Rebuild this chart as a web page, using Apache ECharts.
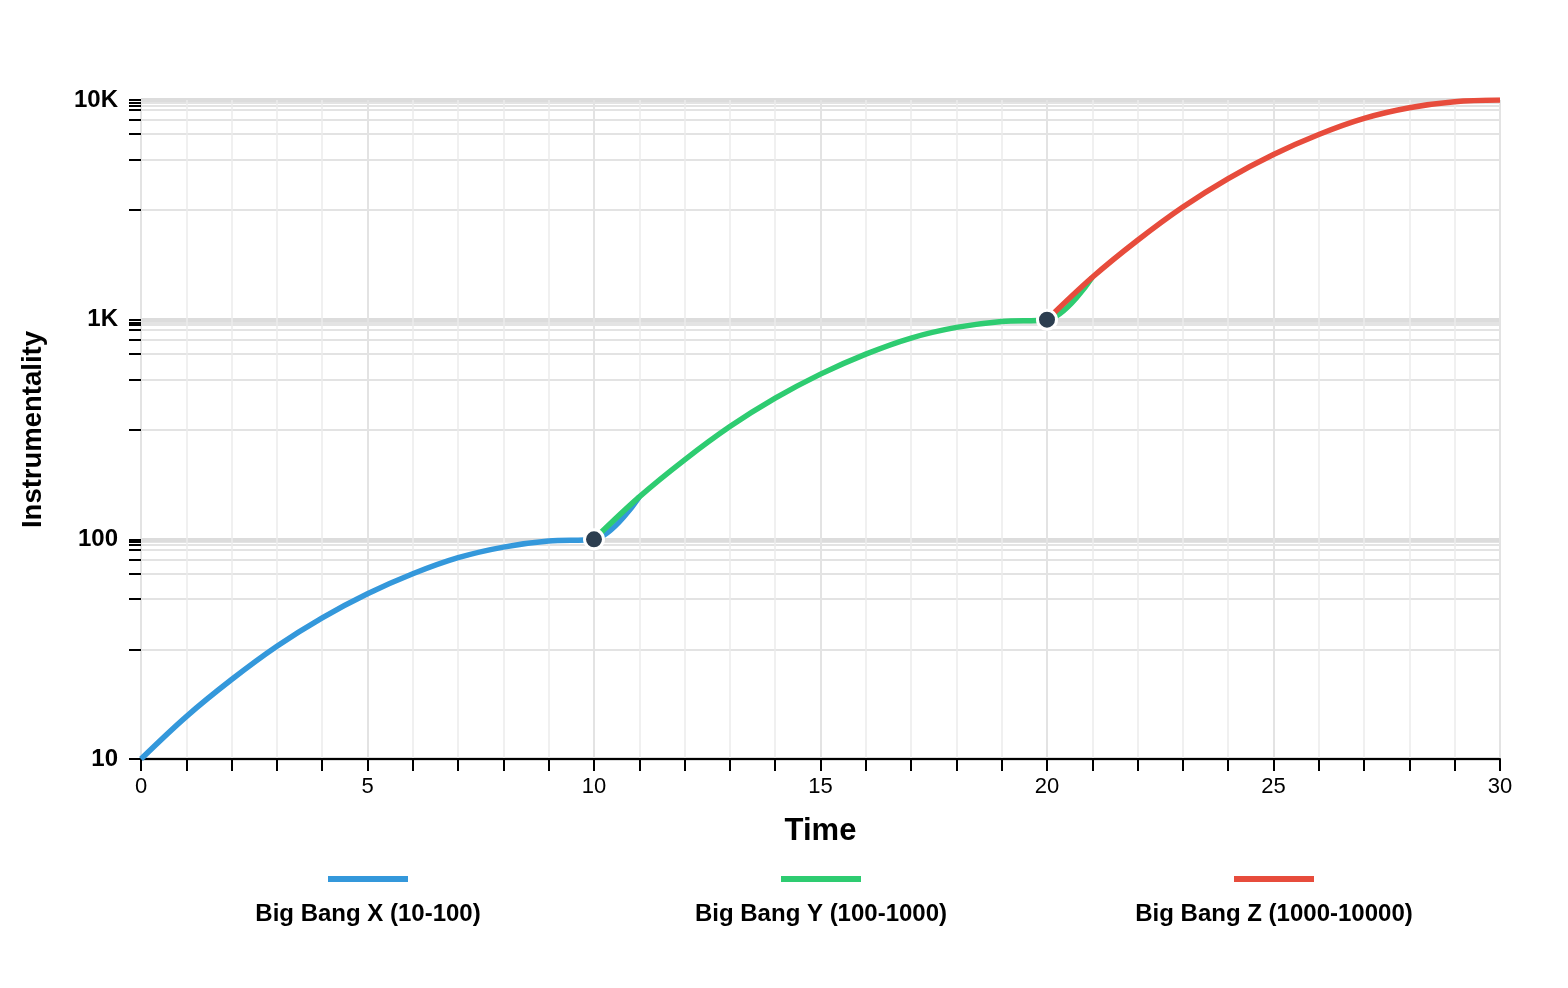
<!DOCTYPE html>
<html>
<head>
<meta charset="utf-8">
<script src="https://cdn.jsdelivr.net/npm/echarts@6/dist/echarts.min.js"></script>
<style>
html,body{margin:0;padding:0;background:#fff;}
#chart{width:1568px;height:988px;}
</style>
</head>
<body>
<div id="chart"></div>
<script>
// Data
const seriesNames = ['Big Bang X (10-100)', 'Big Bang Y (100-1000)', 'Big Bang Z (1000-10000)'];
const seriesColors = ['#3498db', '#2ecc71', '#e74c3c'];
const xValuesX = [0, 1, 2, 3, 4, 5, 6, 7, 8, 9, 10, 11];
const valuesX = [10, 15.6, 23, 32.6, 43.9, 56.5, 69.7, 82.5, 92.2, 98.2, 100, 156];
const xValuesY = [10, 11, 12, 13, 14, 15, 16, 17, 18, 19, 20, 21];
const valuesY = [100, 156, 230, 326, 439, 565, 697, 825, 922, 982, 1000, 1560];
const xValuesZ = [20, 21, 22, 23, 24, 25, 26, 27, 28, 29, 30];
const valuesZ = [1000, 1560, 2300, 3260, 4390, 5650, 6970, 8250, 9220, 9820, 10000];
const markerPoints = [[10, 100], [20, 1000]];
// y axis ticks
const yMajorTicks = [10, 100, 1000, 10000];
const yMinorTicks = [31.5, 53.5, 70, 81, 90, 94.5, 97,
                     315, 535, 700, 810, 900, 945, 970,
                     3150, 5350, 7000, 8100, 9000, 9450, 9700];
const yTickLabels = {10: '10', 100: '100', 1000: '1K', 10000: '10K'};

const chart = echarts.init(document.getElementById('chart'));
const FONT = 'Liberation Sans, Arial, Helvetica, sans-serif';

function pairs(xs, ys) { return xs.map((x, i) => [x, ys[i]]); }

const seriesData = [pairs(xValuesX, valuesX), pairs(xValuesY, valuesY), pairs(xValuesZ, valuesZ)];
const legendCenters = [368, 821, 1274];

const legends = seriesNames.map((name, i) => ({
  data: [name],
  left: legendCenters[i] - 155,
  top: 873,
  padding: 0,
  itemWidth: 0,
  itemHeight: 0,
  icon: 'rect',
  formatter: n => '{l|}\n{n|' + n + '}',
  textStyle: {
    width: 300,
    rich: {
      l: { width: 80, height: 6, lineHeight: 6, backgroundColor: seriesColors[i], align: 'center' },
      n: { fontFamily: FONT, fontWeight: 'bold', fontSize: 24, color: '#000', lineHeight: 64, align: 'center' }
    }
  }
}));

const allYTicks = yMajorTicks.concat(yMinorTicks).sort((a, b) => a - b);

const option = {
  animation: false,
  backgroundColor: '#fff',
  color: seriesColors,
  legend: legends,
  grid: { left: 141, right: 68, top: 100, bottom: 229, containLabel: false },
  xAxis: {
    type: 'value',
    min: 0, max: 30, interval: 5,
    name: 'Time',
    nameLocation: 'middle',
    nameGap: 57,
    nameTextStyle: { fontFamily: FONT, fontWeight: 'bold', fontSize: 31, color: '#000' },
    axisLine: { show: true, lineStyle: { color: '#000', width: 2 } },
    axisTick: { show: true, length: 12, lineStyle: { color: '#000', width: 2 } },
    minorTick: { show: true, splitNumber: 5, length: 12, lineStyle: { color: '#000', width: 2 } },
    axisLabel: { fontFamily: FONT, fontSize: 22, color: '#000', margin: 17 },
    splitLine: { show: true, lineStyle: { color: '#e3e3e3', width: 2 } },
    minorSplitLine: { show: true, lineStyle: { color: '#ececec', width: 1.5 } }
  },
  yAxis: [
    {
      type: 'log',
      logBase: 10,
      min: 10, max: 10000,
      name: 'Instrumentality',
      nameLocation: 'middle',
      nameGap: 94,
      nameTextStyle: { fontFamily: FONT, fontWeight: 'bold', fontSize: 27.5, color: '#000' },
      axisLine: { show: false },
      axisTick: { show: true, length: 12, customValues: allYTicks, lineStyle: { color: '#000', width: 2 } },
      minorTick: { show: false },
      axisLabel: {
        fontFamily: FONT, fontWeight: 'bold', fontSize: 24, color: '#000', margin: 23,
        customValues: yMajorTicks,
        formatter: v => yTickLabels[Math.round(v)] || String(v)
      },
      splitLine: { show: true, lineStyle: { color: '#e3e3e3', width: 2 } }
    },
    {
      type: 'log',
      logBase: 10,
      min: 10, max: 10000,
      position: 'left',
      axisLine: { show: false },
      axisTick: { show: false },
      axisLabel: { show: false },
      splitLine: { show: true, lineStyle: { color: '#dcdcdc', width: 4 } }
    }
  ],
  series: [
    ...seriesNames.map((name, i) => ({
      name: name,
      type: 'line',
      data: seriesData[i],
      smooth: 0.35,
      showSymbol: false,
      symbol: 'none',
      lineStyle: { width: 5.5, color: seriesColors[i] },
      itemStyle: { color: seriesColors[i] },
      z: 2 + i
    })),
    {
      name: 'markers',
      type: 'scatter',
      data: markerPoints,
      symbolSize: 19,
      itemStyle: { color: '#2c3e50', borderColor: '#fff', borderWidth: 3, opacity: 1 },
      z: 10
    }
  ]
};
chart.setOption(option);
</script>
</body>
</html>
